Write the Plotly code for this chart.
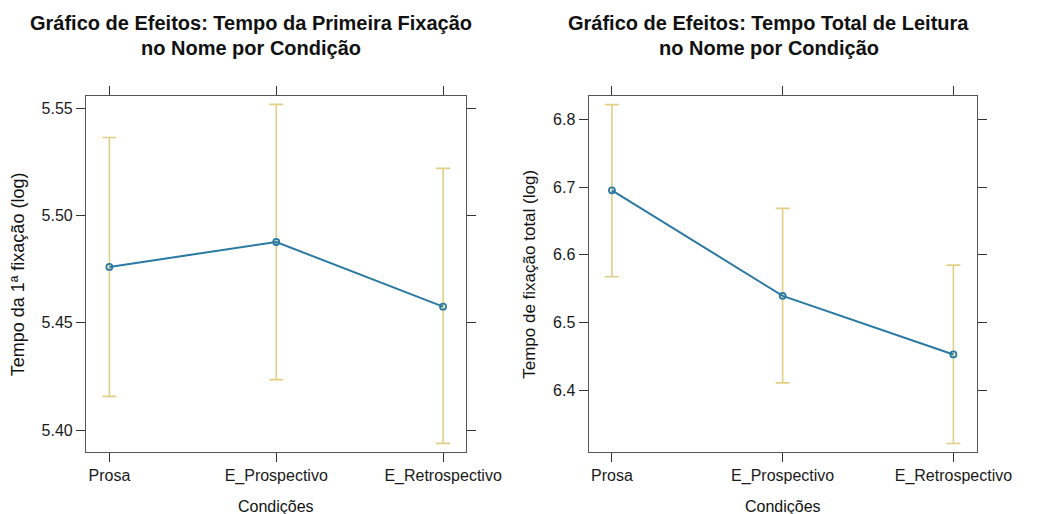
import plotly.graph_objects as go

# Conditions on the x axis
condicoes = ["Prosa", "E_Prospectivo", "E_Retrospectivo"]

# First fixation time (log): estimate and confidence limits
primeira_fix = [5.4760, 5.4876, 5.4575]
primeira_sup = [5.5363, 5.5517, 5.5219]
primeira_inf = [5.4157, 5.4235, 5.3938]

# Total reading time (log): estimate and confidence limits
total_leit = [6.6951, 6.5394, 6.4529]
total_sup = [6.8216, 6.6685, 6.5848]
total_inf = [6.5675, 6.4110, 6.3214]

LINE_COLOR = "#2A7AA3"
BAR_COLOR = "#E2CF86"
FRAME = "#555555"
FONT = "Liberation Sans, Arial, sans-serif"

fig = go.Figure()


def add_panel(est, sup, inf, xa, ya):
    fig.add_trace(go.Scatter(
        x=condicoes, y=est, mode="markers",
        marker=dict(size=1, color="rgba(0,0,0,0)"),
        error_y=dict(type="data", symmetric=False,
                     array=[s - e for s, e in zip(sup, est)],
                     arrayminus=[e - i for e, i in zip(est, inf)],
                     color=BAR_COLOR, thickness=1.6, width=7),
        xaxis=xa, yaxis=ya, showlegend=False, hoverinfo="skip"))
    fig.add_trace(go.Scatter(
        x=condicoes, y=est, mode="lines+markers",
        line=dict(color=LINE_COLOR, width=2),
        marker=dict(symbol="circle-open", size=6, color=LINE_COLOR,
                    line=dict(width=1.8, color=LINE_COLOR)),
        xaxis=xa, yaxis=ya, showlegend=False))


add_panel(primeira_fix, primeira_sup, primeira_inf, "x", "y")
add_panel(total_leit, total_sup, total_inf, "x2", "y2")

xcommon = dict(
    type="category", showline=True, linecolor=FRAME, linewidth=1.3,
    mirror="ticks", ticks="outside", ticklen=9, tickcolor="#333333",
    tickwidth=1.2, showgrid=False, zeroline=False,
    tickfont=dict(family=FONT, size=16, color="#1a1a1a"))
ycommon = dict(
    showline=True, linecolor=FRAME, linewidth=1.3,
    mirror="ticks", ticks="outside", ticklen=9, tickcolor="#333333",
    tickwidth=1.2, showgrid=False, zeroline=False,
    tickfont=dict(family=FONT, size=16, color="#1a1a1a"))

y_dom = [1 - 452 / 514, 1 - 96 / 514]

fig.update_layout(
    width=1050, height=514,
    margin=dict(l=0, r=0, t=0, b=0),
    paper_bgcolor="white", plot_bgcolor="white",
    xaxis=dict(xcommon, domain=[89 / 1050, 482 / 1050],
               range=[-0.14, 2.137], anchor="y"),
    yaxis=dict(ycommon, domain=y_dom, range=[5.3898, 5.5556],
               tickvals=[5.40, 5.45, 5.50, 5.55], tickformat=".2f", anchor="x"),
    xaxis2=dict(xcommon, domain=[609 / 1050, 1011 / 1050],
                range=[-0.136, 2.14], anchor="y2"),
    yaxis2=dict(ycommon, domain=y_dom, range=[6.3089, 6.8344],
                tickvals=[6.4, 6.5, 6.6, 6.7, 6.8], tickformat=".1f", anchor="x2"),
)

annots = [
    dict(text="<b>Gráfico de Efeitos: Tempo da Primeira Fixação</b>",
         x=260, y=23, size=20),
    dict(text="<b>no Nome por Condição</b>", x=260, y=48, size=20),
    dict(text="<b>Gráfico de Efeitos: Tempo Total de Leitura</b>",
         x=795, y=23, size=20),
    dict(text="<b>no Nome por Condição</b>", x=795, y=48, size=20),
    dict(text="Condições", x=286, y=506, size=16),
    dict(text="Condições", x=810, y=506, size=16),
]
for a in annots:
    fig.add_annotation(
        text=a["text"], x=a["x"] / 1050, y=1 - a["y"] / 514,
        xref="paper", yref="paper", showarrow=False,
        xanchor="center", yanchor="middle",
        font=dict(family=FONT, size=a["size"], color="#111111"))

for txt, xp, sz in [("Tempo da 1ª fixação (log)", 19, 18),
                    ("Tempo de fixação total (log)", 547, 17)]:
    fig.add_annotation(
        text=txt, x=xp / 1050, y=1 - 274 / 514, xref="paper", yref="paper",
        showarrow=False, textangle=-90, xanchor="center", yanchor="middle",
        font=dict(family=FONT, size=sz, color="#111111"))

fig.write_html("out.html")
